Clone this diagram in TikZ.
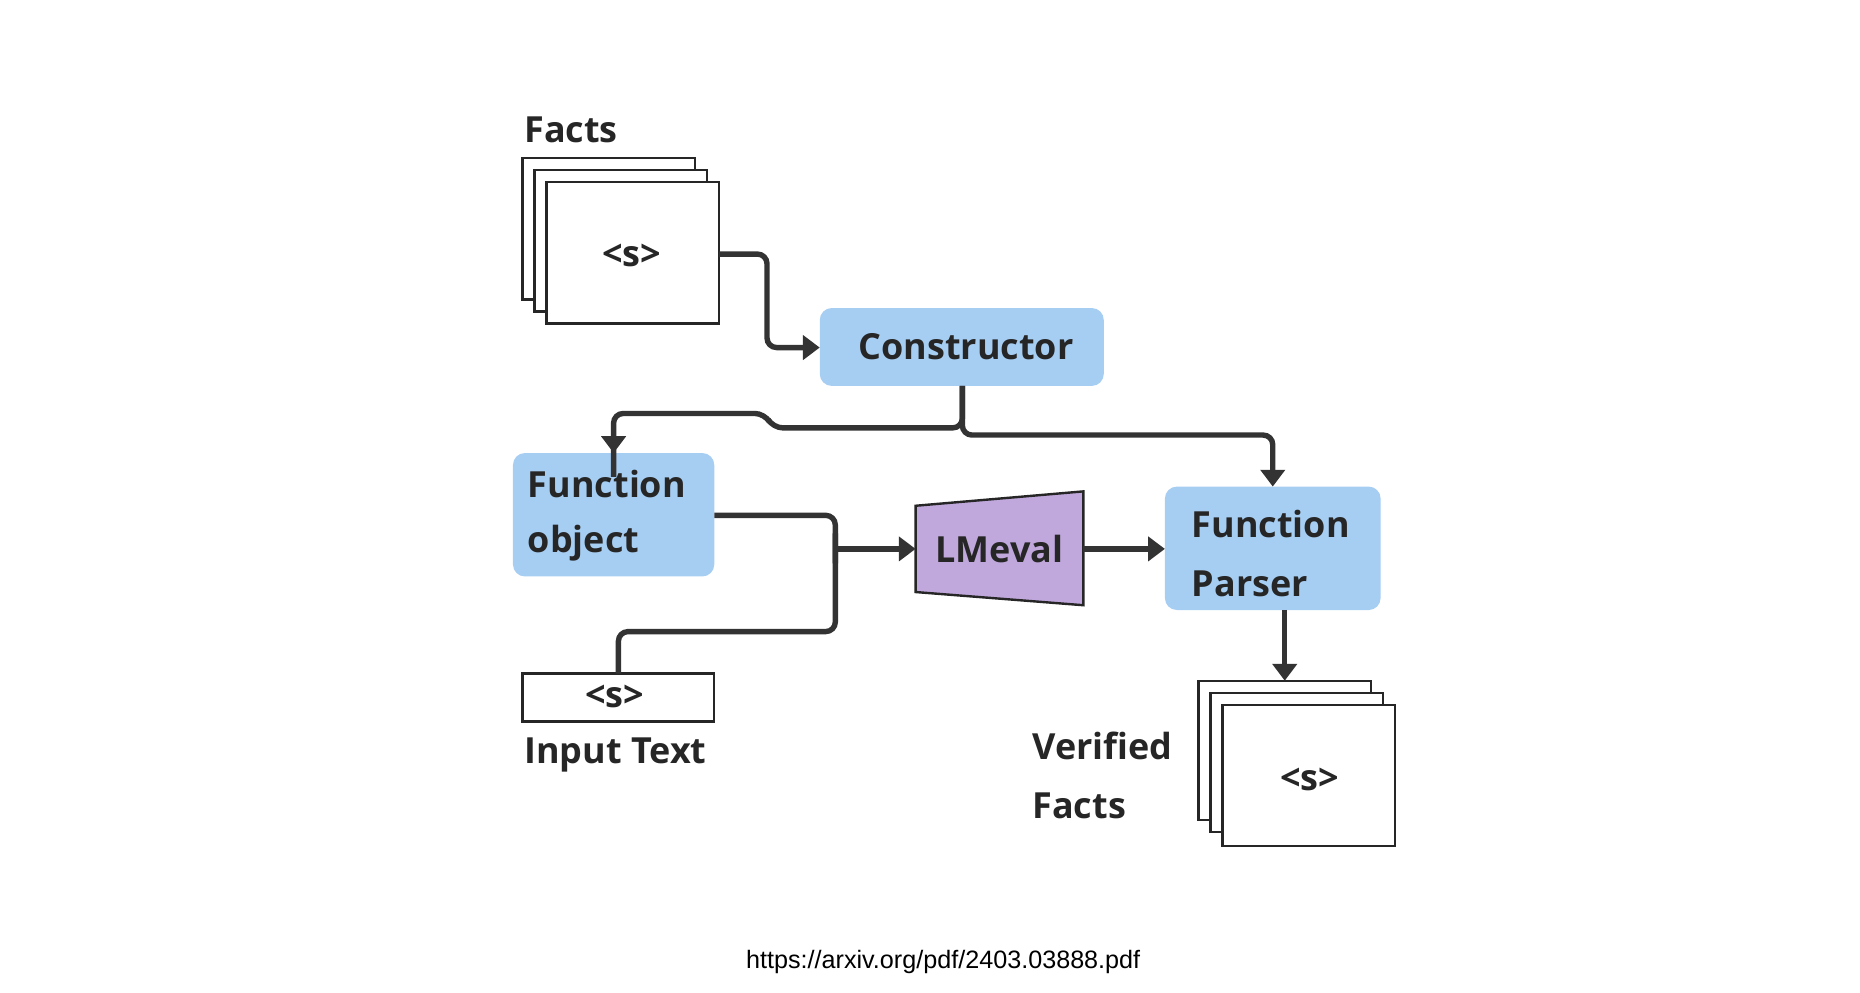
\documentclass[tikz,border=0pt]{standalone}
\usepackage{fontspec}
\setmainfont{Open Sans}
\newfontfamily\urlfont{Liberation Sans}
\usetikzlibrary{arrows.meta}
\definecolor{boxblue}{HTML}{A6CDF2}
\definecolor{lmpurple}{HTML}{C0A8DC}
\definecolor{arr}{HTML}{333333}
\begin{document}
\begin{tikzpicture}[x=1pt,y=-1pt,
  page/.style={draw=black!85,line width=2pt,fill=white},
  blue/.style={fill=boxblue,rounded corners=10pt},
  lbl/.style={font=\fontsize{30}{36}\selectfont\bfseries,text=black!85},
  conn/.style={draw=arr,line width=4.5pt,rounded corners=8pt,-{Triangle[length=14pt,width=20pt]}},
  line/.style={draw=arr,line width=4.5pt,rounded corners=8pt}]
\useasboundingbox (0,0) rectangle (1552,828);
% Facts stack
\node[lbl,anchor=west] (facts) at (434,108) {Facts};
\draw[page] (436,132) rectangle (580,250);
\draw[page] (446,142) rectangle (590,260);
\draw[page] (456,152) rectangle (600,270);
\coordinate (factsR) at (600,212);
\node[lbl] (s1) at (527,213) {<s>};
% Constructor
\fill[blue] (684,257) rectangle (921,322);
\node[lbl] (cons) at (806,289) {Constructor};
\coordinate (consL) at (684,290);
\coordinate (consB) at (803,322);
% Function object
\fill[blue] (428,378) rectangle (596,481);
\node[lbl,anchor=west] (fo1) at (437,404) {Function};
\node[lbl,anchor=west] (fo2) at (437,453) {object};
\coordinate (foT) at (512,378);
\coordinate (foR) at (596,430);
% LMeval
\draw[fill=lmpurple,draw=black!85,line width=2pt] (764,422) -- (904,410) -- (904,505) -- (764,494) -- cycle;
\node[lbl] (lm) at (834,458) {LMeval};
\coordinate (lmL) at (764,458);
\coordinate (lmR) at (904,458);
% Function Parser
\fill[blue] (972,406) rectangle (1152,509);
\node[lbl,anchor=west] (fp1) at (991,437) {Function};
\node[lbl,anchor=west] (fp2) at (991,487) {Parser};
\coordinate (fpL) at (972,458);
\coordinate (fpT) at (1062,406);
\coordinate (fpB) at (1072,509);
% Input text
\draw[page] (436,562) rectangle (596,602);
\node[lbl] (s2) at (513,581) {<s>};
\coordinate (inT) at (516,562);
\node[lbl,anchor=west] (in) at (434,630) {Input Text};
% Verified
\draw[page] (1000,568) rectangle (1144,684);
\draw[page] (1010,578) rectangle (1154,694);
\draw[page] (1020,588) rectangle (1164,706);
\node[lbl] (s3) at (1093,650) {<s>};
\coordinate (vT) at (1072,568);
\node[lbl,anchor=west] (v1) at (858,622) {Verified};
\node[lbl,anchor=west] (v2) at (858,672) {Facts};
% connectors
\draw[conn] (factsR) -- (640,212) -- (640,290) -- (consL);
\draw[line] (consB) -- (803,357) -- (645,357) -- (638,345) -- (512,345) -- ([yshift=-20pt]foT);
\draw[conn] (512,355) -- (foT);
\draw[conn] (consB) -- (803,363) -- (1062,363) -- (fpT);
\draw[line] (foR) -- (697,430) -- (697,470);
\draw[line] (inT) -- (516,527) -- (697,527) -- (697,445);
\draw[conn] (697,458) -- (lmL);
\draw[conn] (lmR) -- (fpL);
\draw[conn] (fpB) -- (vT);
\node[font=\urlfont\fontsize{21}{24}\selectfont] (url) at (787,803) {https://arxiv.org/pdf/2403.03888.pdf};
\end{tikzpicture}
\end{document}
